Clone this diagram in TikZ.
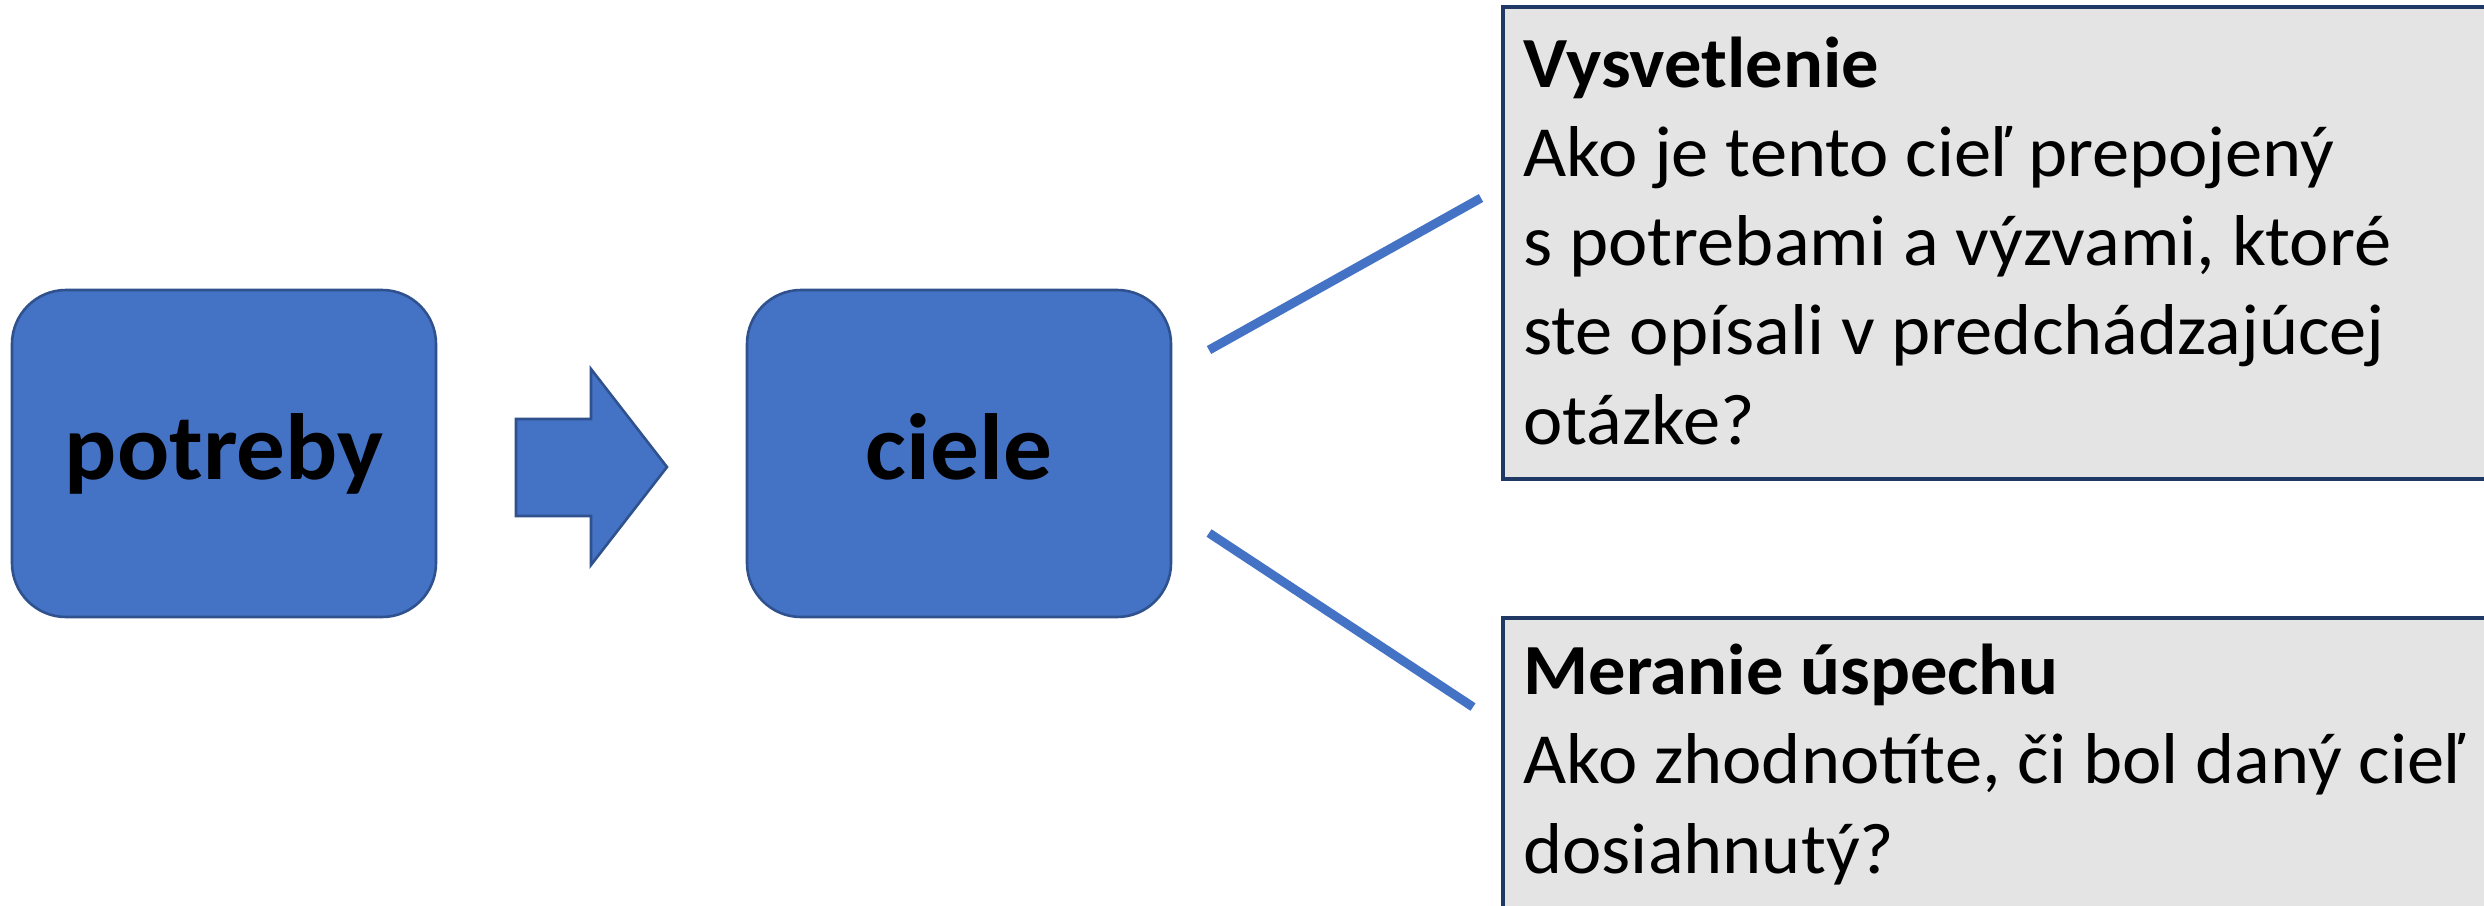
\documentclass[tikz,border=0pt]{standalone}
\usepackage{fontspec}
\setmainfont{Carlito}[FakeStretch=1.035]
\definecolor{boxblue}{HTML}{4472C4}
\definecolor{boxline}{HTML}{2F528F}
\definecolor{grayfill}{HTML}{E4E4E4}
\definecolor{grayline}{HTML}{203864}
\begin{document}
\begin{tikzpicture}[x=0.5pt,y=-0.5pt,
  bluebox/.style={draw=boxline, fill=boxblue, line width=1.3pt, rounded corners=27pt,
    minimum width=212pt, minimum height=163.5pt, inner sep=0pt,
    font=\fontsize{47pt}{56pt}\selectfont\bfseries, text height=25.5pt, text depth=0pt},
  graybox/.style={draw=grayline, fill=grayfill, line width=2pt, inner sep=0pt, minimum width=508.5pt},
  bodytext/.style={font=\fontsize{36pt}{44.6pt}\selectfont, align=left, inner sep=0pt},
  link/.style={draw=boxblue, line width=4.5pt},
  blockarrow/.style={draw=boxline, fill=boxblue, line width=1.3pt, line join=miter}]
\useasboundingbox (0,0) rectangle (2484,905);
\clip (0,0) rectangle (2484,905);
\fill[white] (0,0) rectangle (2484,905);
\node[bluebox] (potreby) at (224,453.5) {potreby};
\node[bluebox] (ciele) at (959,453.5) {ciele};
\draw[blockarrow] (516,419) -- (591,419) -- (591,369) -- (667,467) -- (591,565) -- (591,516) -- (516,516) -- cycle;
\node[graybox, minimum height=236pt] (expl) at (2011.5,243) {};
\node[graybox, minimum height=191pt] (meas) at (2011.5,809) {};
\node[bodytext, anchor=base west] (explt) at (1523,444) {\textbf{Vysvetlenie}\\Ako je tento cieľ prepojený\\s potrebami a výzvami, ktoré\\ste opísali v predchádzajúcej\\otázke?};
\node[bodytext, anchor=base west] (meast) at (1523,873) {\textbf{Meranie úspechu}\\Ako zhodnotíte, či bol daný cieľ\\dosiahnutý?};
\coordinate (l1a) at (1209,350);
\coordinate (l1b) at (1481,198);
\coordinate (l2a) at (1209,533);
\coordinate (l2b) at (1473,707);
\draw[link] (l1a) -- (l1b);
\draw[link] (l2a) -- (l2b);
\end{tikzpicture}
\end{document}
